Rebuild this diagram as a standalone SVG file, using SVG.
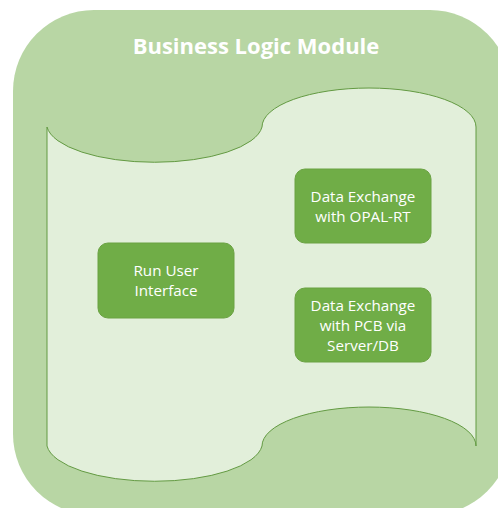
<svg xmlns="http://www.w3.org/2000/svg" width="498" height="508" viewBox="0 0 498 508">
  <style>
    .module { fill: #B8D6A4; }
    .scroll { fill: #E2EFDA; stroke: #639A42; stroke-width: 1; }
    .box { fill: #70AD47; stroke: #6BA243; stroke-width: 1; }
    .title { font-family: "Open Sans", "Liberation Sans", sans-serif; font-weight: bold; font-size: 22px; fill: #FFFFFF; text-anchor: middle; }
    .label { font-family: "Open Sans", "Liberation Sans", sans-serif; font-size: 15.2px; fill: #FFFFFF; text-anchor: middle; }
  </style>

  <!-- Outer module container -->
  <g id="module">
    <rect class="module" x="13" y="10" width="498" height="505" rx="81" ry="81"/>
    <text class="title" x="256" y="54">Business Logic Module</text>
  </g>

  <!-- Double-wave scroll panel -->
  <g id="panel">
    <path class="scroll" d="M47,127 A108,39 0 0 0 262,127 A107,39 0 0 1 476,127 L476,446 A107,39 0 0 0 262,446 A108,39 0 0 1 47,446 Z"/>
  </g>

  <!-- Connectors (none drawn) -->
  <g id="connectors"/>

  <g id="node-opal">
    <rect class="box" x="295" y="169" width="136" height="74" rx="10" ry="10"/>
    <text class="label" x="363" y="202">Data Exchange</text>
    <text class="label" x="363" y="222">with OPAL-RT</text>
  </g>

  <g id="node-ui">
    <rect class="box" x="98" y="243" width="136" height="75" rx="10" ry="10"/>
    <text class="label" x="166" y="276">Run User</text>
    <text class="label" x="166" y="296">Interface</text>
  </g>

  <g id="node-pcb">
    <rect class="box" x="295" y="288" width="136" height="74" rx="10" ry="10"/>
    <text class="label" x="363" y="311">Data Exchange</text>
    <text class="label" x="363" y="331">with PCB via</text>
    <text class="label" x="363" y="351">Server/DB</text>
  </g>
</svg>
